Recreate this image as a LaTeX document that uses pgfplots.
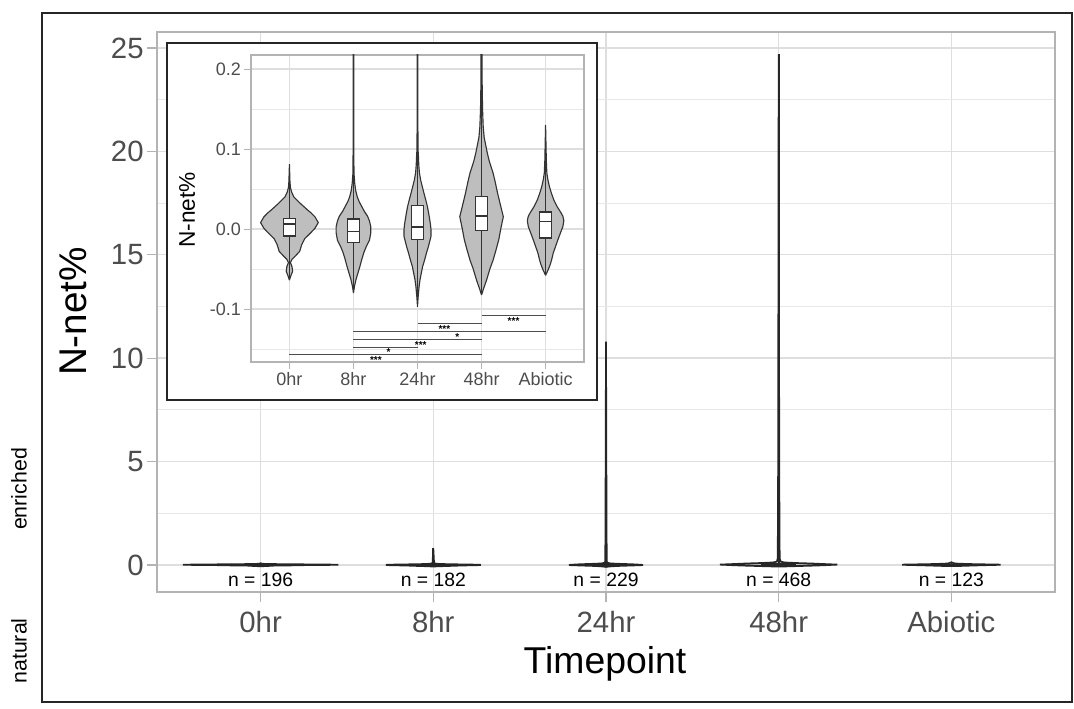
\documentclass[border=0pt]{standalone}
\usepackage{pgfplots}
\pgfplotsset{compat=1.18}
\usepackage{pgfplotstable}
\usepackage{fontspec}
\setmainfont{Liberation Sans}
\definecolor{grey30}{HTML}{4D4D4D}
\definecolor{grey70}{HTML}{B3B3B3}
\definecolor{grey87}{HTML}{DEDEDE}
\definecolor{grey92}{HTML}{E8E8E8}
\definecolor{vfill}{HTML}{BEBEBE}
\definecolor{vline}{HTML}{333333}

% violin outlines: dx (offset from category centre), y
\pgfplotstableread{
dx y
0 -0.064
0.02 -0.059
0.05 -0.053
0.04 -0.047
0.015 -0.042
0.04 -0.038
0.09 -0.034
0.16 -0.028
0.19 -0.020
0.24 -0.012
0.33 -0.005
0.40 0.001
0.45 0.008
0.40 0.015
0.34 0.020
0.28 0.024
0.17 0.032
0.07 0.040
0.035 0.046
0.015 0.052
0.008 0.060
0 0.081
-0.008 0.060
-0.015 0.052
-0.035 0.046
-0.07 0.040
-0.17 0.032
-0.28 0.024
-0.34 0.020
-0.40 0.015
-0.45 0.008
-0.40 0.001
-0.33 -0.005
-0.24 -0.012
-0.19 -0.020
-0.16 -0.028
-0.09 -0.034
-0.04 -0.038
-0.015 -0.042
-0.04 -0.047
-0.05 -0.053
-0.02 -0.059
0 -0.064
}\vA

\pgfplotstableread{
dx y
0 -0.080
0.015 -0.072
0.04 -0.063
0.07 -0.055
0.10 -0.047
0.13 -0.038
0.16 -0.030
0.20 -0.022
0.25 -0.014
0.27 -0.005
0.27 0.003
0.25 0.010
0.22 0.016
0.17 0.022
0.13 0.028
0.09 0.034
0.06 0.040
0.035 0.048
0.02 0.057
0.008 0.070
0.004 0.120
0.003 0.300
0 0.800
-0.003 0.300
-0.004 0.120
-0.008 0.070
-0.02 0.057
-0.035 0.048
-0.06 0.040
-0.09 0.034
-0.13 0.028
-0.17 0.022
-0.22 0.016
-0.25 0.010
-0.27 0.003
-0.27 -0.005
-0.25 -0.014
-0.20 -0.022
-0.16 -0.030
-0.13 -0.038
-0.10 -0.047
-0.07 -0.055
-0.04 -0.063
-0.015 -0.072
0 -0.080
}\vB

\pgfplotstableread{
dx y
0 -0.097
0.01 -0.085
0.025 -0.072
0.04 -0.063
0.06 -0.055
0.08 -0.047
0.11 -0.039
0.14 -0.030
0.17 -0.022
0.21 -0.0095
0.21 0.000
0.20 0.007
0.18 0.017
0.155 0.028
0.13 0.036
0.10 0.045
0.075 0.053
0.05 0.061
0.03 0.070
0.02 0.080
0.015 0.090
0.008 0.100
0.005 0.150
0.004 0.500
0.003 2.000
0 10.800
-0.003 2.000
-0.004 0.500
-0.005 0.150
-0.008 0.100
-0.015 0.090
-0.02 0.080
-0.03 0.070
-0.05 0.061
-0.075 0.053
-0.10 0.045
-0.13 0.036
-0.155 0.028
-0.18 0.017
-0.20 0.007
-0.21 0.000
-0.21 -0.0095
-0.17 -0.022
-0.14 -0.030
-0.11 -0.039
-0.08 -0.047
-0.06 -0.055
-0.04 -0.063
-0.025 -0.072
-0.01 -0.085
0 -0.097
}\vC

\pgfplotstableread{
dx y
0 -0.0825
0.03 -0.075
0.078 -0.064
0.13 -0.050
0.18 -0.039
0.23 -0.025
0.27 -0.013
0.30 0.000
0.34 0.0154
0.31 0.025
0.25 0.045
0.21 0.060
0.18 0.070
0.12 0.085
0.09 0.095
0.07 0.103
0.04 0.115
0.026 0.128
0.016 0.150
0.01 0.180
0.006 0.300
0.005 1.000
0.003 5.000
0 24.700
-0.003 5.000
-0.005 1.000
-0.006 0.300
-0.01 0.180
-0.016 0.150
-0.026 0.128
-0.04 0.115
-0.07 0.103
-0.09 0.095
-0.12 0.085
-0.18 0.070
-0.21 0.060
-0.25 0.045
-0.31 0.025
-0.34 0.0154
-0.30 0.000
-0.27 -0.013
-0.23 -0.025
-0.18 -0.039
-0.13 -0.050
-0.078 -0.064
-0.03 -0.075
0 -0.0825
}\vD

\pgfplotstableread{
dx y
0 -0.058
0.04 -0.051
0.07 -0.045
0.093 -0.039
0.12 -0.030
0.155 -0.022
0.19 -0.014
0.23 -0.0054
0.27 0.003
0.285 0.0104
0.27 0.016
0.24 0.0204
0.18 0.028
0.13 0.036
0.09 0.045
0.06 0.053
0.035 0.062
0.02 0.070
0.012 0.085
0.008 0.100
0 0.130
-0.008 0.100
-0.012 0.085
-0.02 0.070
-0.035 0.062
-0.06 0.053
-0.09 0.045
-0.13 0.036
-0.18 0.028
-0.24 0.0204
-0.27 0.016
-0.285 0.0104
-0.27 0.003
-0.23 -0.0054
-0.19 -0.014
-0.155 -0.022
-0.12 -0.030
-0.093 -0.039
-0.07 -0.045
-0.04 -0.051
0 -0.058
}\vE

\newcommand{\drawviolins}[3]{% #1 outline width, #2 median width, #3 outline colour
 \addplot[fill=vfill, draw=#3, line width=#1] table[x expr=1+\thisrow{dx}, y=y]{\vA};
 \addplot[fill=vfill, draw=#3, line width=#1] table[x expr=2+\thisrow{dx}, y=y]{\vB};
 \addplot[fill=vfill, draw=#3, line width=#1] table[x expr=3+\thisrow{dx}, y=y]{\vC};
 \addplot[fill=vfill, draw=#3, line width=#1] table[x expr=4+\thisrow{dx}, y=y]{\vD};
 \addplot[fill=vfill, draw=#3, line width=#1] table[x expr=5+\thisrow{dx}, y=y]{\vE};
 % whiskers
 \addplot[draw=#3, line width=#1] coordinates {(1,-0.064) (1,0.081)};
 \addplot[draw=#3, line width=#1] coordinates {(2,-0.080) (2,0.800)};
 \addplot[draw=#3, line width=#1] coordinates {(3,-0.097) (3,10.80)};
 \addplot[draw=#3, line width=#1] coordinates {(4,-0.0825) (4,24.70)};
 \addplot[draw=#3, line width=#1] coordinates {(5,-0.058) (5,0.130)};
 % boxes
 \addplot[fill=white, draw=#3, line width=#1] coordinates {(0.905,-0.0088) (1.095,-0.0088) (1.095,0.0133) (0.905,0.0133) (0.905,-0.0088)};
 \addplot[fill=white, draw=#3, line width=#1] coordinates {(1.905,-0.0170) (2.095,-0.0170) (2.095,0.0125) (1.905,0.0125) (1.905,-0.0170)};
 \addplot[fill=white, draw=#3, line width=#1] coordinates {(2.905,-0.0134) (3.095,-0.0134) (3.095,0.0299) (2.905,0.0299) (2.905,-0.0134)};
 \addplot[fill=white, draw=#3, line width=#1] coordinates {(3.905,-0.0021) (4.095,-0.0021) (4.095,0.0410) (3.905,0.0410) (3.905,-0.0021)};
 \addplot[fill=white, draw=#3, line width=#1] coordinates {(4.905,-0.0113) (5.095,-0.0113) (5.095,0.0212) (4.905,0.0212) (4.905,-0.0113)};
 % medians
 \addplot[draw=#3, line width=#2] coordinates {(0.905,0.0058) (1.095,0.0058)};
 \addplot[draw=#3, line width=#2] coordinates {(1.905,-0.0033) (2.095,-0.0033)};
 \addplot[draw=#3, line width=#2] coordinates {(2.905,0.0029) (3.095,0.0029)};
 \addplot[draw=#3, line width=#2] coordinates {(3.905,0.0163) (4.095,0.0163)};
 \addplot[draw=#3, line width=#2] coordinates {(4.905,0.0092) (5.095,0.0092)};
}

\begin{document}
\begin{tikzpicture}
\useasboundingbox (0pt,0pt) rectangle (805.5pt,531.75pt);

% ---------------- main axis ----------------
\begin{axis}[
  at={(117.75pt,87.75pt)}, anchor=south west,
  scale only axis, width=673.5pt, height=420pt,
  xmin=0.4, xmax=5.6, ymin=-1.31, ymax=25.77,
  xtick={1,2,3,4,5}, xticklabels={0hr,8hr,24hr,48hr,Abiotic},
  ytick={0,5,10,15,20,25}, yticklabels={0,5,10,15,20,25},
  minor ytick={2.5,7.5,12.5,17.5,22.5},
  xmajorgrids, ymajorgrids, yminorgrids,
  major grid style={draw=grey87, line width=1pt},
  minor grid style={draw=grey92, line width=0.7pt},
  axis line style={draw=grey70, line width=1pt},
  tick align=outside, major tick length=7.5pt, minor tick length=0pt,
  tick style={draw=grey70, line width=0.9pt},
  xtick pos=bottom, ytick pos=left,
  ticklabel style={font=\fontsize{22}{26}\selectfont, text=grey30},
  xticklabel style={anchor=base, yshift=-23pt},
  yticklabel style={anchor=east, xshift=1pt},
]
\drawviolins{1.3pt}{1.3pt}{black!85}
\node[font=\fontsize{14.5}{16}\selectfont, text=black] at (axis cs:1,-0.73) {n = 196};
\node[font=\fontsize{14.5}{16}\selectfont, text=black] at (axis cs:2,-0.73) {n = 182};
\node[font=\fontsize{14.5}{16}\selectfont, text=black] at (axis cs:3,-0.73) {n = 229};
\node[font=\fontsize{14.5}{16}\selectfont, text=black] at (axis cs:4,-0.73) {n = 468};
\node[font=\fontsize{14.5}{16}\selectfont, text=black] at (axis cs:5,-0.73) {n = 123};
\end{axis}

% axis titles and side labels
\node[rotate=90, font=\fontsize{29}{32}\selectfont] at (54.75pt,298.1pt) {N-net\%};
\node[anchor=base, font=\fontsize{28}{32}\selectfont] at (453.75pt,26.25pt) {Timepoint};
\node[rotate=90, font=\fontsize{16}{18}\selectfont] at (14.25pt,165pt) {enriched};
\node[rotate=90, font=\fontsize{16}{18}\selectfont] at (14.25pt,43.5pt) {natural};

% ---------------- inset ----------------
\draw[line width=1.7pt, draw=black!85, fill=white] (125.25pt,231.75pt) rectangle (447.75pt,499.5pt);
\begin{axis}[
  at={(188.25pt,260.25pt)}, anchor=south west,
  scale only axis, width=249.75pt, height=230.25pt,
  xmin=0.4, xmax=5.6, ymin=-0.16625, ymax=0.2175,
  xtick={1,2,3,4,5}, xticklabels={0hr,8hr,24hr,48hr,Abiotic},
  ytick={-0.1,0,0.1,0.2}, yticklabels={-0.1,0.0,0.1,0.2},
  minor ytick={-0.15,-0.05,0.05,0.15},
  xmajorgrids, ymajorgrids, yminorgrids,
  major grid style={draw=grey87, line width=0.8pt},
  minor grid style={draw=grey92, line width=0.6pt},
  axis line style={draw=grey70, line width=0.8pt},
  tick align=outside, major tick length=5pt, minor tick length=0pt,
  tick style={draw=grey70, line width=0.7pt},
  xtick pos=bottom, ytick pos=left,
  ticklabel style={font=\fontsize{13.5}{15}\selectfont, text=grey30},
  xticklabel style={anchor=base, yshift=-13pt},
  yticklabel style={anchor=east, xshift=1pt},
]
\drawviolins{0.85pt}{1.3pt}{vline}
% significance bars
\addplot[draw=grey30, line width=0.75pt] coordinates {(4,-0.1085) (5,-0.1085)};
\addplot[draw=grey30, line width=0.75pt] coordinates {(3,-0.118) (4,-0.118)};
\addplot[draw=grey30, line width=0.75pt] coordinates {(2,-0.128) (5,-0.128)};
\addplot[draw=grey30, line width=0.75pt] coordinates {(2,-0.138) (4,-0.138)};
\addplot[draw=grey30, line width=0.75pt] coordinates {(2,-0.148) (3,-0.148)};
\addplot[draw=grey30, line width=0.75pt] coordinates {(1,-0.157) (4,-0.157)};
\node[anchor=base, font=\fontsize{7.5}{8}\selectfont\bfseries, inner sep=0pt] at (axis cs:4.5,-0.1200) {***};
\node[anchor=base, font=\fontsize{7.5}{8}\selectfont\bfseries, inner sep=0pt] at (axis cs:3.42,-0.1292) {***};
\node[anchor=base, font=\fontsize{7.5}{8}\selectfont\bfseries, inner sep=0pt] at (axis cs:3.62,-0.1388) {*};
\node[anchor=base, font=\fontsize{7.5}{8}\selectfont\bfseries, inner sep=0pt] at (axis cs:3.05,-0.1488) {***};
\node[anchor=base, font=\fontsize{7.5}{8}\selectfont\bfseries, inner sep=0pt] at (axis cs:2.55,-0.1585) {*};
\node[anchor=base, font=\fontsize{7.5}{8}\selectfont\bfseries, inner sep=0pt] at (axis cs:2.35,-0.1680) {***};
\end{axis}
\node[rotate=90, font=\fontsize{17}{19}\selectfont] at (140.25pt,374.25pt) {N-net\%};

% outer frame
\draw[line width=1.8pt, draw=black!85] (31.5pt,5.25pt) rectangle (804pt,522pt);
\end{tikzpicture}
\end{document}
